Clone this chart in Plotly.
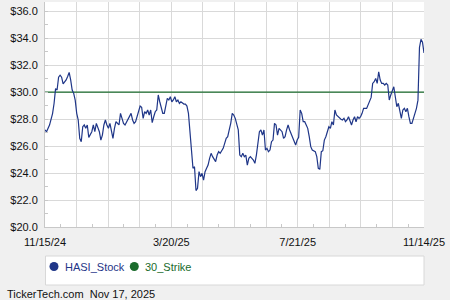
import plotly.graph_objects as go

# ---- data (trading-day index since 11/15/24, closing price) ----
days = [0, 1, 3, 5, 6, 7, 8, 9, 10, 11, 12, 13, 14, 15, 16, 17, 18, 19, 20, 21,
        22, 23, 24, 25, 26, 27, 28, 29, 30, 31, 32, 33, 34, 35, 36, 37, 38, 39, 40, 41,
        42, 43, 44, 45, 46, 47, 49, 50, 51, 52, 53, 54, 55, 56, 57, 58, 59, 60, 61, 62,
        63, 64, 65, 66, 67, 68, 69, 70, 71, 72, 73, 74, 75, 76, 77, 78, 79, 80, 81, 82,
        83, 84, 85, 86, 87, 88, 89, 90, 91, 92, 93, 94, 95, 96, 97, 98, 99, 100, 101, 102,
        103, 104, 105, 106, 107, 108, 109, 110, 111, 112, 113, 114, 115, 116, 117, 118, 120, 121, 122, 123,
        124, 125, 126, 127, 128, 129, 130, 131, 132, 133, 134, 135, 136, 138, 139, 140, 141, 142, 143, 144,
        145, 146, 147, 148, 149, 150, 151, 152, 153, 154, 155, 156, 157, 158, 159, 160, 161, 162, 164, 165,
        166, 167, 168, 169, 170, 171, 172, 173, 174, 175, 176, 177, 178, 179, 180, 181, 182, 183, 184, 185,
        186, 187, 188, 189, 190, 191, 192, 193, 195, 196, 197, 198, 199, 200, 201, 202, 203, 204, 205, 206,
        207, 208, 209, 210, 211, 213, 214, 215, 216, 217, 218, 219, 220, 221, 222, 223, 224, 225, 226, 227,
        228, 229, 230, 231, 232, 233, 234, 235, 236, 237, 238, 239, 240, 241, 242, 243, 244, 245, 246, 247,
        248, 249, 250, 251]
prices = [27.2, 27.05, 27.55, 28.4, 29.15, 30.25, 30.15, 31.1, 31.25, 31.1, 30.6, 30.75, 30.9, 31.15, 31.45, 30.9, 30.15, 29.9, 29.4, 28.42,
          27.93, 26.57, 26.32, 27.43, 27.56, 27.31, 27.56, 26.64, 26.81, 27.06, 27.56, 27.06, 27.68, 27.43, 27.06, 26.44, 26.81, 27.56, 27.93, 27.56,
          27.31, 27.68, 27.19, 26.57, 27.31, 27.8, 27.56, 28.42, 28.05, 27.68, 27.56, 27.8, 27.93, 28.3, 28.42, 27.93, 27.68, 27.8, 28.17, 28.54,
          28.96, 28.87, 28.05, 28.54, 28.42, 28.67, 28.3, 28.67, 27.73, 28.17, 28.54, 28.67, 29.78, 29.28, 28.79, 28.42, 28.42, 29.04, 29.53, 29.41,
          29.65, 29.28, 29.41, 29.65, 29.28, 29.41, 29.16, 29.28, 29.16, 29.11, 29.11, 28.96, 28.42, 26.94, 25.7, 24.35, 24.47, 22.7, 22.87, 24.1,
          23.73, 23.98, 23.48, 24.1, 24.35, 24.59, 25.09, 25.46, 25.21, 24.96, 24.84, 25.33, 25.58, 25.46, 25.7, 25.83, 26.57, 26.69, 27.19, 27.68,
          28.42, 28.3, 28.05, 27.56, 27.19, 25.33, 25.21, 25.46, 25.21, 25.33, 24.59, 25.09, 25.21, 24.96, 24.72, 25.33, 26.07, 27.06, 27.19, 26.81,
          27.19, 25.7, 25.83, 25.58, 25.7, 26.32, 26.44, 27.68, 27.56, 26.81, 27.31, 27.19, 27.06, 26.57, 26.69, 27.19, 27.56, 27.19, 26.69, 26.32,
          26.07, 26.44, 26.64, 28.67, 28.42, 27.8, 27.8, 27.56, 27.31, 26.69, 25.95, 25.7, 25.65, 25.58, 25.21, 24.35, 24.27, 25.58, 25.65, 26.44,
          26.69, 27.06, 27.43, 27.31, 27.8, 27.56, 28.67, 28.3, 28.05, 27.98, 27.93, 28.05, 27.8, 27.93, 28.17, 27.93, 27.56, 27.93, 28.17, 27.8,
          28.17, 28.05, 28.17, 28.42, 28.79, 28.79, 29.04, 29.41, 29.6, 30.64, 30.76, 31.01, 30.64, 31.5, 30.89, 30.64, 30.64, 30.52, 30.64, 30.52,
          29.41, 29.78, 30.15, 30.39, 29.65, 28.91, 29.16, 28.54, 28.05, 28.67, 28.79, 28.54, 28.79, 28.17, 27.68, 27.68, 28.05, 28.54, 28.79, 29.4,
          33.3, 33.9, 33.7, 32.9]
strike = 30.0
tick_labels = ["11/15/24", "3/20/25", "7/21/25", "11/14/25"]
y_ticks = [20, 22, 24, 26, 28, 30, 32, 34, 36]
series_names = ["HASI_Stock", "30_Strike"]
footer = "TickerTech.com  Nov 17, 2025"

STOCK_C = "#1f3688"
STRIKE_C = "#1a6b2c"
GRID_C = "#d9d9d9"
FONT = "Liberation Sans, Arial, sans-serif"

last_day = days[-1]
n_int = 12
grid_x = [last_day * i / n_int for i in range(n_int + 1)]
grid_text = [""] * (n_int + 1)
for i, lab in enumerate(tick_labels):
    grid_text[i * 4] = lab
minor_x = [last_day * (i + 0.5) / n_int for i in range(n_int)]

fig = go.Figure()
fig.add_trace(go.Scatter(x=[0, last_day], y=[strike, strike], mode="lines",
                         line=dict(color=STRIKE_C, width=1.3), showlegend=False,
                         hoverinfo="skip"))
fig.add_trace(go.Scatter(x=days, y=prices, mode="lines",
                         line=dict(color=STOCK_C, width=1.2), showlegend=False))

# plot-area pixel geometry for the manual legend
L, R, T, B = 45, 424, 2, 227
W, H = R - L, B - T
def px(x):
    return (x - L) / W
def py(y):
    return (B - y) / H

shapes = [
    dict(type="rect", xref="paper", yref="paper", x0=px(45.5), x1=px(424), y0=py(285), y1=py(256),
         line=dict(color="#d8d8d8", width=1), fillcolor="white", layer="below"),
]
annotations = []
legend_items = [(54, 62.5, STOCK_C), (134.3, 142.8, STRIKE_C)]
for name, (cx, tx, col) in zip(series_names, legend_items):
    cy = 266.5
    shapes.append(dict(type="circle", xref="paper", yref="paper",
                       x0=px(cx - 4.5), x1=px(cx + 4.5), y0=py(cy + 4.5), y1=py(cy - 4.5),
                       fillcolor=col, line=dict(color=col, width=0)))
    annotations.append(dict(text=name, xref="paper", yref="paper", x=px(tx), y=py(cy),
                            xanchor="left", yanchor="middle", showarrow=False,
                            font=dict(size=11, color=col, family=FONT)))
annotations.append(dict(text=footer, xref="paper", yref="paper", x=px(5), y=py(294),
                        xanchor="left", yanchor="middle", showarrow=False,
                        font=dict(size=11, color="#111", family=FONT)))

fig.update_layout(
    width=450, height=300,
    margin=dict(l=L, r=450 - R, t=T, b=300 - B),
    paper_bgcolor="#f0f0f0", plot_bgcolor="white",
    font=dict(family=FONT, size=11, color="#111"),
    showlegend=False,
    shapes=shapes, annotations=annotations,
    xaxis=dict(range=[0, last_day], tickmode="array", tickvals=grid_x, ticktext=grid_text,
               showgrid=True, gridcolor=GRID_C, gridwidth=1, ticks="", zeroline=False,
               showline=True, linecolor="#c8c8c8", linewidth=1, ticklabelstandoff=5,
               tickfont=dict(size=11, color="#111"),
               minor=dict(tickmode="array", tickvals=minor_x, ticks="inside", ticklen=3,
                          tickcolor="#c8c8c8", showgrid=False)),
    yaxis=dict(range=[20, 36.67], tickmode="array", tickvals=y_ticks,
               ticktext=["$%.1f" % v for v in y_ticks],
               showgrid=True, gridcolor=GRID_C, gridwidth=1, ticks="", zeroline=False,
               showline=True, linecolor="#c8c8c8", linewidth=1, ticklabelstandoff=4,
               tickfont=dict(size=11, color="#111"),
               minor=dict(dtick=1, ticks="inside", ticklen=3, tickcolor="#c8c8c8", showgrid=False)),
)

fig.write_html("out.html")
